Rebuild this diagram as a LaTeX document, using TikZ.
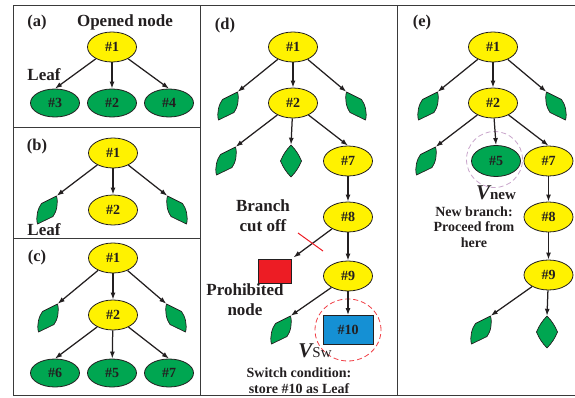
\documentclass[tikz,border=0pt]{standalone}
\usepackage{fontspec}
\setmainfont{Liberation Serif}
\usetikzlibrary{arrows.meta,calc,shapes.geometric}
\definecolor{yel}{HTML}{FFF200}
\definecolor{grn}{HTML}{00A651}
\definecolor{rd}{HTML}{ED1C24}
\definecolor{blu}{HTML}{1590D4}
\definecolor{frm}{HTML}{3A3A3A}
\definecolor{txt}{HTML}{231F20}
\definecolor{purp}{HTML}{C9A6CB}
\tikzset{
  ynode/.style={ellipse, draw=txt, line width=0.8pt, fill=yel, minimum width=49pt, minimum height=30pt, inner sep=0pt, font=\fontsize{14}{14}\selectfont\bfseries, text=txt},
  gnode/.style={ynode, fill=grn, minimum height=28pt},
  arr/.style={draw=txt, line width=1.25pt, -{Latex[length=7pt,width=5pt]}},
  lbl/.style={font=\fontsize{17}{20}\selectfont\bfseries, align=center, text=txt, inner sep=0pt},
  plbl/.style={font=\fontsize{16.5}{18}\selectfont\bfseries, text=txt, inner sep=0pt},
  slbl/.style={font=\fontsize{14}{15.5}\selectfont\bfseries, align=center, text=txt, inner sep=0pt},
  leafbox/.style={draw=none, minimum width=19pt, minimum height=28pt, inner sep=0pt},
  leafdraw/.style={draw=txt, fill=grn, line width=0.7pt, line join=round},
  frame/.style={draw=frm, line width=1pt},
}
\newcommand{\myleafL}[2]{%
  \node[leafbox] (#1) at (#2) {};
  \draw[leafdraw, shift={(#2)}] (-9.5,14) .. controls (-11.5,7) and (-9,-2) .. (-5.5,-6.5) -- (9.5,-14) .. controls (11.5,-7) and (9.5,2) .. (6,6.5) -- cycle;}
\newcommand{\myleafR}[2]{%
  \node[leafbox] (#1) at (#2) {};
  \draw[leafdraw, shift={(#2)}] (9.5,14) .. controls (11.5,7) and (9,-2) .. (5.5,-6.5) -- (-9.5,-14) .. controls (-11.5,-7) and (-9.5,2) .. (-6,6.5) -- cycle;}
\newcommand{\mydiam}[2]{%
  \node[leafbox, minimum height=32pt] (#1) at (#2) {};
  \draw[leafdraw, shift={(#2)}] (0,-16) to[bend left=10] (10.5,0) to[bend left=10] (0,16) to[bend left=10] (-10.5,0) to[bend left=10] cycle;}
\begin{document}
\begin{tikzpicture}[x=1pt, y=-1pt]
\useasboundingbox (0,0) rectangle (575,398);
% frame
\draw[frame] (575,6) -- (13,6) -- (13,395) -- (575,395);
\draw[frame] (200.5,6) -- (200.5,395);
\draw[frame] (397,6) -- (397,395);
\draw[frame] (13,128) -- (200.5,128);
\draw[frame] (13,238) -- (200.5,238);

% ---------- (a)
\node[plbl] (la) at (37,23) {(a)};
\node[lbl] (opened) at (125,22) {Opened node};
\node[lbl] (leafa) at (44,75) {Leaf};
\node[ynode] (a1) at (112,47) {\#1};
\node[gnode] (a3) at (55,103) {\#3};
\node[gnode] (a2) at (112,103) {\#2};
\node[gnode] (a4) at (169,103) {\#4};
\draw[arr] (a1) -- (a3.north);
\draw[arr] (a1) -- (a2);
\draw[arr] (a1) -- (a4.north);

% ---------- (b)
\node[plbl] (lb) at (37,147) {(b)};
\node[ynode] (b1) at (113,153) {\#1};
\node[ynode] (b2) at (113,210) {\#2};
\myleafL{bl}{47,210}
\myleafR{br}{177,210}
\node[lbl] (leafb) at (44,230) {Leaf};
\draw[arr] (b1) -- (bl.north east);
\draw[arr] (b1) -- (b2);
\draw[arr] (b1) -- (br.north west);

% ---------- (c)
\node[plbl] (lc) at (37,258) {(c)};
\node[ynode] (c1) at (113,258) {\#1};
\node[ynode] (c2) at (113,315) {\#2};
\myleafL{cl}{48,318}
\myleafR{cr}{176,318}
\node[gnode] (c6) at (55,373) {\#6};
\node[gnode] (c5) at (112,373) {\#5};
\node[gnode] (c7) at (169,373) {\#7};
\draw[arr] (c1) -- (cl.north east);
\draw[arr] (c1) -- (c2);
\draw[arr] (c1) -- (cr.north west);
\draw[arr] (c2) -- (c6.north);
\draw[arr] (c2) -- (c5);
\draw[arr] (c2) -- (c7.north);

% ---------- (d)
\node[plbl] (ld) at (225,26) {(d)};
\node[ynode] (d1) at (293,47) {\#1};
\node[ynode] (d2) at (293,103) {\#2};
\myleafL{dl1}{228,106}
\myleafR{dr1}{356,106}
\myleafL{dl2}{226,161}
\mydiam{dd}{291,161}
\node[ynode] (d7) at (348,161) {\#7};
\node[ynode] (d8) at (348,217) {\#8};
\node[ynode] (d9) at (348,276) {\#9};
\node[draw=txt, line width=0.8pt, fill=rd, minimum width=33pt, minimum height=24pt, inner sep=0pt] (red) at (275,271) {};
\myleafL{dl3}{281,330}
\node[draw=txt, line width=0.8pt, fill=blu, minimum width=50pt, minimum height=29pt, inner sep=0pt, font=\fontsize{14}{14}\selectfont\bfseries, text=txt] (d10) at (348,330) {\#10};
\node[draw=rd!85, dashed, dash pattern=on 5pt off 3pt, line width=0.8pt, ellipse, minimum width=66pt, minimum height=62pt, inner sep=0pt] (swc) at (348,330) {};
\draw[arr] (d1) -- (dl1.north east);
\draw[arr] (d1) -- (d2);
\draw[arr] (d1) -- (dr1.north west);
\draw[arr] (d2) -- (dl2.north east);
\draw[arr] (d2) -- (dd.north);
\draw[arr] (d2) -- (d7.north);
\draw[arr] (d7) -- (d8);
\draw[arr, shorten >=2pt] (d8) -- (red.north east);
\draw[arr] (d8) -- (d9);
\draw[arr] (d9) -- (dl3.north east);
\draw[arr] (d9) -- (d10);
\coordinate (cutA) at (298,233);
\coordinate (cutB) at (323,251);
\draw[rd, line width=1pt] (cutA) -- (cutB);
\node[lbl] (branchcut) at (263,216) {Branch\\cut off};
\node[lbl] (prohib) at (245,300) {Prohibited\\node};
\node[text=txt, inner sep=0pt] (vsw) at (315,351) {\fontsize{21}{21}\selectfont\bfseries\itshape V\upshape\mdseries\fontsize{15}{15}\selectfont Sw};
\node[slbl] (switch) at (299,380.5) {Switch condition:\\store \#10 as Leaf};

% ---------- (e)
\node[plbl] (le) at (422,23) {(e)};
\node[ynode] (e1) at (493,47) {\#1};
\node[ynode] (e2) at (493,103) {\#2};
\myleafL{el1}{428,106}
\myleafR{er1}{556,106}
\myleafL{el2}{426,161}
\node[gnode, minimum height=31pt] (e5) at (496,161) {\#5};
\node[ynode] (e7) at (548.5,161) {\#7};
\node[ynode] (e8) at (548.5,217) {\#8};
\node[ynode] (e9) at (548.5,275) {\#9};
\myleafL{el3}{481,330}
\mydiam{ed}{547,332}
\node[draw=purp, dashed, dash pattern=on 5pt off 3pt, line width=0.8pt, circle, minimum size=56pt, inner sep=0pt] (newc) at (494.5,159.5) {};
\draw[arr] (e1) -- (el1.north east);
\draw[arr] (e1) -- (e2);
\draw[arr] (e1) -- (er1.north west);
\draw[arr] (e2) -- (el2.north east);
\draw[arr] (e2) -- (e5.north);
\draw[arr] (e2) -- (e7.north);
\draw[arr] (e7) -- (e8);
\draw[arr] (e8) -- (e9);
\draw[arr] (e9) -- (el3.north east);
\draw[arr] (e9) -- (ed.north);
\node[text=txt, inner sep=0pt] (vnew) at (496,193) {\fontsize{21}{21}\selectfont\bfseries\itshape V\upshape\fontsize{15}{15}\selectfont new};
\node[slbl] (newbr) at (474,227) {New branch:\\Proceed from\\here};
\end{tikzpicture}
\end{document}
